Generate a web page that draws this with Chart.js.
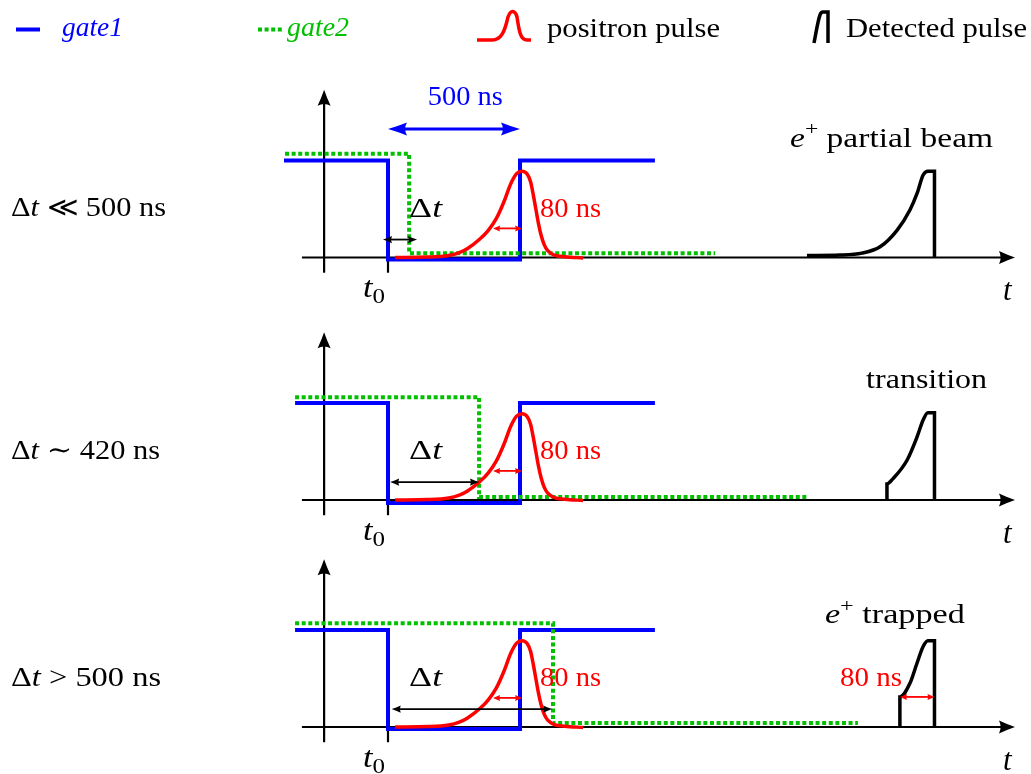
<!DOCTYPE html>
<html>
<head>
<meta charset="utf-8">
<script src="https://cdn.jsdelivr.net/npm/chart.js@4.4.1/dist/chart.umd.min.js"></script>
<style>
  html, body { margin: 0; padding: 0; background: #fff; }
  #wrap { position: relative; width: 1031px; height: 774px; }
</style>
</head>
<body>
<div id="wrap"><canvas id="gates" width="1031" height="774"></canvas></div>
<script>
// time in ns (t0 = 0), amplitude in gate units (gate high = 1)
const gate1Panel1 = [[-394, 1], [0, 1], [0, -0.02], [500, -0.02], [500, 1], [1011, 1]];
const gate1Panel2 = [[-352, 1], [0, 1], [0, -0.03], [500, -0.03], [500, 1], [1011, 1]];
const gate1Panel3 = [[-352, 1], [0, 1], [0, -0.02], [500, -0.02], [500, 1], [1011, 1]];

const gate2Panel1 = [[-390, 1.07], [80, 1.07], [80, 0.045], [1239, 0.045]];
const gate2Panel2 = [[-352, 1.06], [345, 1.06], [345, 0.03], [1587, 0.03]];
const gate2Panel3 = [[-352, 1.07], [625, 1.07], [625, 0.04], [1780, 0.04]];

const positronPulse = [[27, 0], [150, 0.004], [230, 0.02], [270, 0.05], [300, 0.09], [348, 0.19],
  [380, 0.28], [410, 0.4], [440, 0.58], [465, 0.76], [487, 0.865], [508, 0.89], [527, 0.86],
  [540, 0.78], [550, 0.65], [560, 0.5], [570, 0.35], [580, 0.23], [592, 0.13], [605, 0.07],
  [630, 0.025], [670, 0.008], [739, -0.005]];

const detectedPanel1 = [[1587, 0.02], [1712, 0.025], [1795, 0.045], [1864, 0.11], [1928, 0.28],
  [1977, 0.49], [2004, 0.66], [2027, 0.85], [2045, 0.89], [2070, 0.89], [2070, 0]];
const detectedPanel2 = [[1890, 0], [1890, 0.165], [1913, 0.22], [1966, 0.41], [2004, 0.65],
  [2027, 0.825], [2045, 0.9], [2070, 0.9], [2070, 0]];
const detectedPanel3 = [[1939, 0], [1939, 0.31], [1977, 0.45], [2004, 0.66], [2027, 0.83],
  [2045, 0.89], [2070, 0.89], [2070, 0]];

// annotation spans (ns)
const gateSpan = [0, 500];
const deltaTSpans = [[-19, 110], [8, 345], [14, 622]];
const pulseWidthSpan = [398, 508];
const trappedWidthSpan = [1939, 2070];

const caseLabels = [
  [{ t: 'Δ' }, { t: 't', it: 1 }, { t: ' ≪ 500 ns' }],
  [{ t: 'Δ' }, { t: 't', it: 1 }, { t: ' ∼ 420 ns' }],
  [{ t: 'Δ' }, { t: 't', it: 1 }, { t: ' > 500 ns' }]
];
const stateLabels = [
  [{ t: 'e', it: 1 }, { t: '+', sup: 1 }, { t: ' partial beam' }],
  [{ t: 'transition' }],
  [{ t: 'e', it: 1 }, { t: '+', sup: 1 }, { t: ' trapped' }]
];
const legendLabels = ['gate1', 'gate2', 'positron pulse', 'Detected pulse'];

// ---- layout ----
const W = 1031, H = 774;
const T0_PX = 388, PX_PER_NS = 0.264, PX_PER_UNIT = 97;
const axisRowPx = [257.5, 500, 727];
const BLUE = '#0000ff', GREEN = '#00c000', RED = '#ff0000', BLACK = '#000';
const FONT = '"Liberation Serif", "DejaVu Serif", serif';

function yRange(axisPx) {
    return { min: -(H - axisPx) / PX_PER_UNIT, max: axisPx / PX_PER_UNIT };
}

function pts(arr) { return arr.map(([x, y]) => ({ x, y })); }

function line(data, yAxisID, style) {
    return Object.assign({
        data: pts(data), yAxisID, showLine: true, pointRadius: 0, fill: false,
        borderCapStyle: 'butt', borderJoinStyle: 'miter', tension: 0
    }, style);
}

const blueStyle = { borderColor: BLUE, borderWidth: 4, order: 3 };
const greenStyle = { borderColor: GREEN, borderWidth: 4, borderDash: [4, 2.6], order: 2 };
const redStyle = { borderColor: RED, borderWidth: 3.5, cubicInterpolationMode: 'monotone', borderJoinStyle: 'round', order: 1 };
const blackStyle = { borderColor: BLACK, borderWidth: 3.5, cubicInterpolationMode: 'monotone', order: 1 };

function drawMath(ctx, parts, x, y, align, width, color, size) {
    size = size || 27;
    const fontFor = p => (p.it ? 'italic ' : '') + Math.round(p.sup || p.sub ? size * 0.72 : size) + 'px ' + FONT;
    let total = 0;
    const widths = parts.map(p => { ctx.font = fontFor(p); const w = ctx.measureText(p.t).width; total += w; return w; });
    const sx = width ? width / total : 1;
    const start = align === 'center' ? x - total * sx / 2 : align === 'right' ? x - total * sx : x;
    ctx.save();
    ctx.fillStyle = color;
    ctx.textBaseline = 'alphabetic';
    ctx.textAlign = 'left';
    ctx.translate(start, y);
    ctx.scale(sx, 1);
    let cx = 0;
    parts.forEach((p, i) => {
        ctx.font = fontFor(p);
        const dy = p.sup ? -size * 0.42 : p.sub ? size * 0.2 : 0;
        ctx.fillText(p.t, cx, dy);
        cx += widths[i];
    });
    ctx.restore();
}

function head(ctx, x, y, ang, len, half) {
    ctx.save();
    ctx.translate(x, y);
    ctx.rotate(ang);
    ctx.beginPath();
    ctx.moveTo(0, 0);
    ctx.quadraticCurveTo(-len * 0.5, -half * 0.42, -len, -half);
    ctx.quadraticCurveTo(-len * 0.8, 0, -len, half);
    ctx.quadraticCurveTo(-len * 0.5, half * 0.42, 0, 0);
    ctx.closePath();
    ctx.fill();
    ctx.restore();
}

function doubleArrow(ctx, x1, x2, y, color, lw, len, half) {
    ctx.save();
    ctx.strokeStyle = color;
    ctx.fillStyle = color;
    ctx.lineWidth = lw;
    ctx.beginPath();
    ctx.moveTo(x1 + len * 0.6, y);
    ctx.lineTo(x2 - len * 0.6, y);
    ctx.stroke();
    head(ctx, x2, y, 0, len, half);
    head(ctx, x1, y, Math.PI, len, half);
    ctx.restore();
}

const axesPlugin = {
    id: 'axesPlugin',
    beforeDatasetsDraw(chart) {
        const ctx = chart.ctx, xs = chart.scales.x;
        ctx.save();
        ctx.strokeStyle = BLACK;
        ctx.fillStyle = BLACK;
        ctx.lineWidth = 2.2;
        [0, 1, 2].forEach(k => {
            const ys = chart.scales['p' + (k + 1)];
            const y0 = ys.getPixelForValue(0);
            const xa = xs.getPixelForValue(-326), xb = xs.getPixelForValue(2375);
            ctx.beginPath();
            ctx.moveTo(xa, y0);
            ctx.lineTo(xb - 8, y0);
            ctx.stroke();
            head(ctx, xb, y0, 0, 16, 6.5);
            const xv = xs.getPixelForValue(-242);
            const yt = ys.getPixelForValue(1.73), yb = ys.getPixelForValue(-0.157);
            ctx.beginPath();
            ctx.moveTo(xv, yb);
            ctx.lineTo(xv, yt + 8);
            ctx.stroke();
            head(ctx, xv, yt, -Math.PI / 2, 16, 6.5);
            const xt = xs.getPixelForValue(0);
            ctx.beginPath();
            ctx.moveTo(xt, y0);
            ctx.lineTo(xt, yb);
            ctx.stroke();
        });
        ctx.restore();
    },
    afterDatasetsDraw(chart) {
        const ctx = chart.ctx, xs = chart.scales.x;
        const X = v => xs.getPixelForValue(v);
        [0, 1, 2].forEach(k => {
            const ys = chart.scales['p' + (k + 1)];
            const Y = v => ys.getPixelForValue(v);
            // delta t span
            doubleArrow(ctx, X(deltaTSpans[k][0]), X(deltaTSpans[k][1]), Y(0.185), BLACK, 1.8, 9, 3.6);
            // positron pulse width
            doubleArrow(ctx, X(pulseWidthSpan[0]), X(pulseWidthSpan[1]), Y(0.3), RED, 1.8, 7, 3);
            drawMath(ctx, [{ t: 'Δ' }, { t: 't', it: 1 }], X(80), Y(0.42), 'left', 33, BLACK);
            drawMath(ctx, [{ t: '80 ns' }], X(576), Y(0.42), 'left', 61, RED);
            drawMath(ctx, [{ t: 't', it: 1 }, { t: '0', sub: 1 }], X(-95), Y(-0.41), 'left', 22, BLACK, 30);
            drawMath(ctx, [{ t: 't', it: 1 }], X(2330), Y(-0.443), 'left', 0, BLACK, 31);
            drawMath(ctx, caseLabels[k], X(-1428), Y(0.425), 'left', [155, 149, 150][k], BLACK);
        });
        const p1 = chart.scales.p1, p2 = chart.scales.p2, p3 = chart.scales.p3;
        doubleArrow(ctx, X(gateSpan[0]), X(gateSpan[1]), p1.getPixelForValue(1.325), BLUE, 3, 19, 6.5);
        drawMath(ctx, [{ t: '500 ns' }], X(293), p1.getPixelForValue(1.572), 'center', 75, BLUE);
        drawMath(ctx, stateLabels[0], X(1523), p1.getPixelForValue(1.142), 'left', 203, BLACK);
        drawMath(ctx, stateLabels[1], X(1811), p2.getPixelForValue(1.155), 'left', 121, BLACK);
        drawMath(ctx, stateLabels[2], X(1655), p3.getPixelForValue(1.072), 'left', 140, BLACK);
        doubleArrow(ctx, X(trappedWidthSpan[0]), X(trappedWidthSpan[1]), p3.getPixelForValue(0.31), RED, 1.8, 7, 3);
        drawMath(ctx, [{ t: '80 ns' }], X(1947), p3.getPixelForValue(0.423), 'right', 62, RED);

        // legend row
        ctx.save();
        ctx.lineWidth = 4;
        ctx.strokeStyle = BLUE;
        ctx.beginPath(); ctx.moveTo(16, 29.5); ctx.lineTo(40, 29.5); ctx.stroke();
        ctx.strokeStyle = GREEN;
        ctx.setLineDash([4, 2.6]);
        ctx.beginPath(); ctx.moveTo(258, 29.5); ctx.lineTo(284, 29.5); ctx.stroke();
        ctx.setLineDash([]);
        ctx.lineWidth = 3.5;
        ctx.strokeStyle = RED;
        ctx.lineJoin = 'round';
        ctx.beginPath();
        ctx.moveTo(477, 40);
        ctx.lineTo(492, 40);
        ctx.bezierCurveTo(502, 40, 505, 30, 508, 17);
        ctx.quadraticCurveTo(510, 11.5, 512.5, 11.5);
        ctx.quadraticCurveTo(515.5, 11.5, 517, 17);
        ctx.bezierCurveTo(519, 30, 520, 40, 527, 40);
        ctx.lineTo(531, 40);
        ctx.stroke();
        ctx.strokeStyle = BLACK;
        ctx.lineJoin = 'miter';
        ctx.beginPath();
        ctx.moveTo(814, 43);
        ctx.bezierCurveTo(816, 33, 818, 20, 820, 15);
        ctx.quadraticCurveTo(821, 12, 823, 12);
        ctx.lineTo(828, 12);
        ctx.lineTo(828, 43);
        ctx.stroke();
        ctx.restore();
        drawMath(ctx, [{ t: legendLabels[0], it: 1 }], 62, 36, 'left', 61, BLUE);
        drawMath(ctx, [{ t: legendLabels[1], it: 1 }], 287, 36, 'left', 62, GREEN);
        drawMath(ctx, [{ t: legendLabels[2] }], 547, 37, 'left', 173, BLACK);
        drawMath(ctx, [{ t: legendLabels[3] }], 846, 37, 'left', 181, BLACK);
    }
};

new Chart(document.getElementById('gates'), {
    type: 'scatter',
    data: {
        datasets: [
            line(positronPulse, 'p1', redStyle),
            line(positronPulse, 'p2', redStyle),
            line(positronPulse, 'p3', redStyle),
            line(detectedPanel1, 'p1', blackStyle),
            line(detectedPanel2, 'p2', blackStyle),
            line(detectedPanel3, 'p3', blackStyle),
            line(gate2Panel1, 'p1', greenStyle),
            line(gate2Panel2, 'p2', greenStyle),
            line(gate2Panel3, 'p3', greenStyle),
            line(gate1Panel1, 'p1', blueStyle),
            line(gate1Panel2, 'p2', blueStyle),
            line(gate1Panel3, 'p3', blueStyle)
        ]
    },
    options: {
        responsive: false,
        animation: false,
        events: [],
        layout: { padding: 0 },
        plugins: { legend: { display: false }, tooltip: { enabled: false } },
        scales: {
            x: { type: 'linear', display: false, min: -T0_PX / PX_PER_NS, max: (W - T0_PX) / PX_PER_NS },
            p1: Object.assign({ type: 'linear', axis: 'y', position: 'left', display: false }, yRange(axisRowPx[0])),
            p2: Object.assign({ type: 'linear', axis: 'y', position: 'left', display: false }, yRange(axisRowPx[1])),
            p3: Object.assign({ type: 'linear', axis: 'y', position: 'left', display: false }, yRange(axisRowPx[2]))
        }
    },
    plugins: [axesPlugin]
});
</script>
</body>
</html>
